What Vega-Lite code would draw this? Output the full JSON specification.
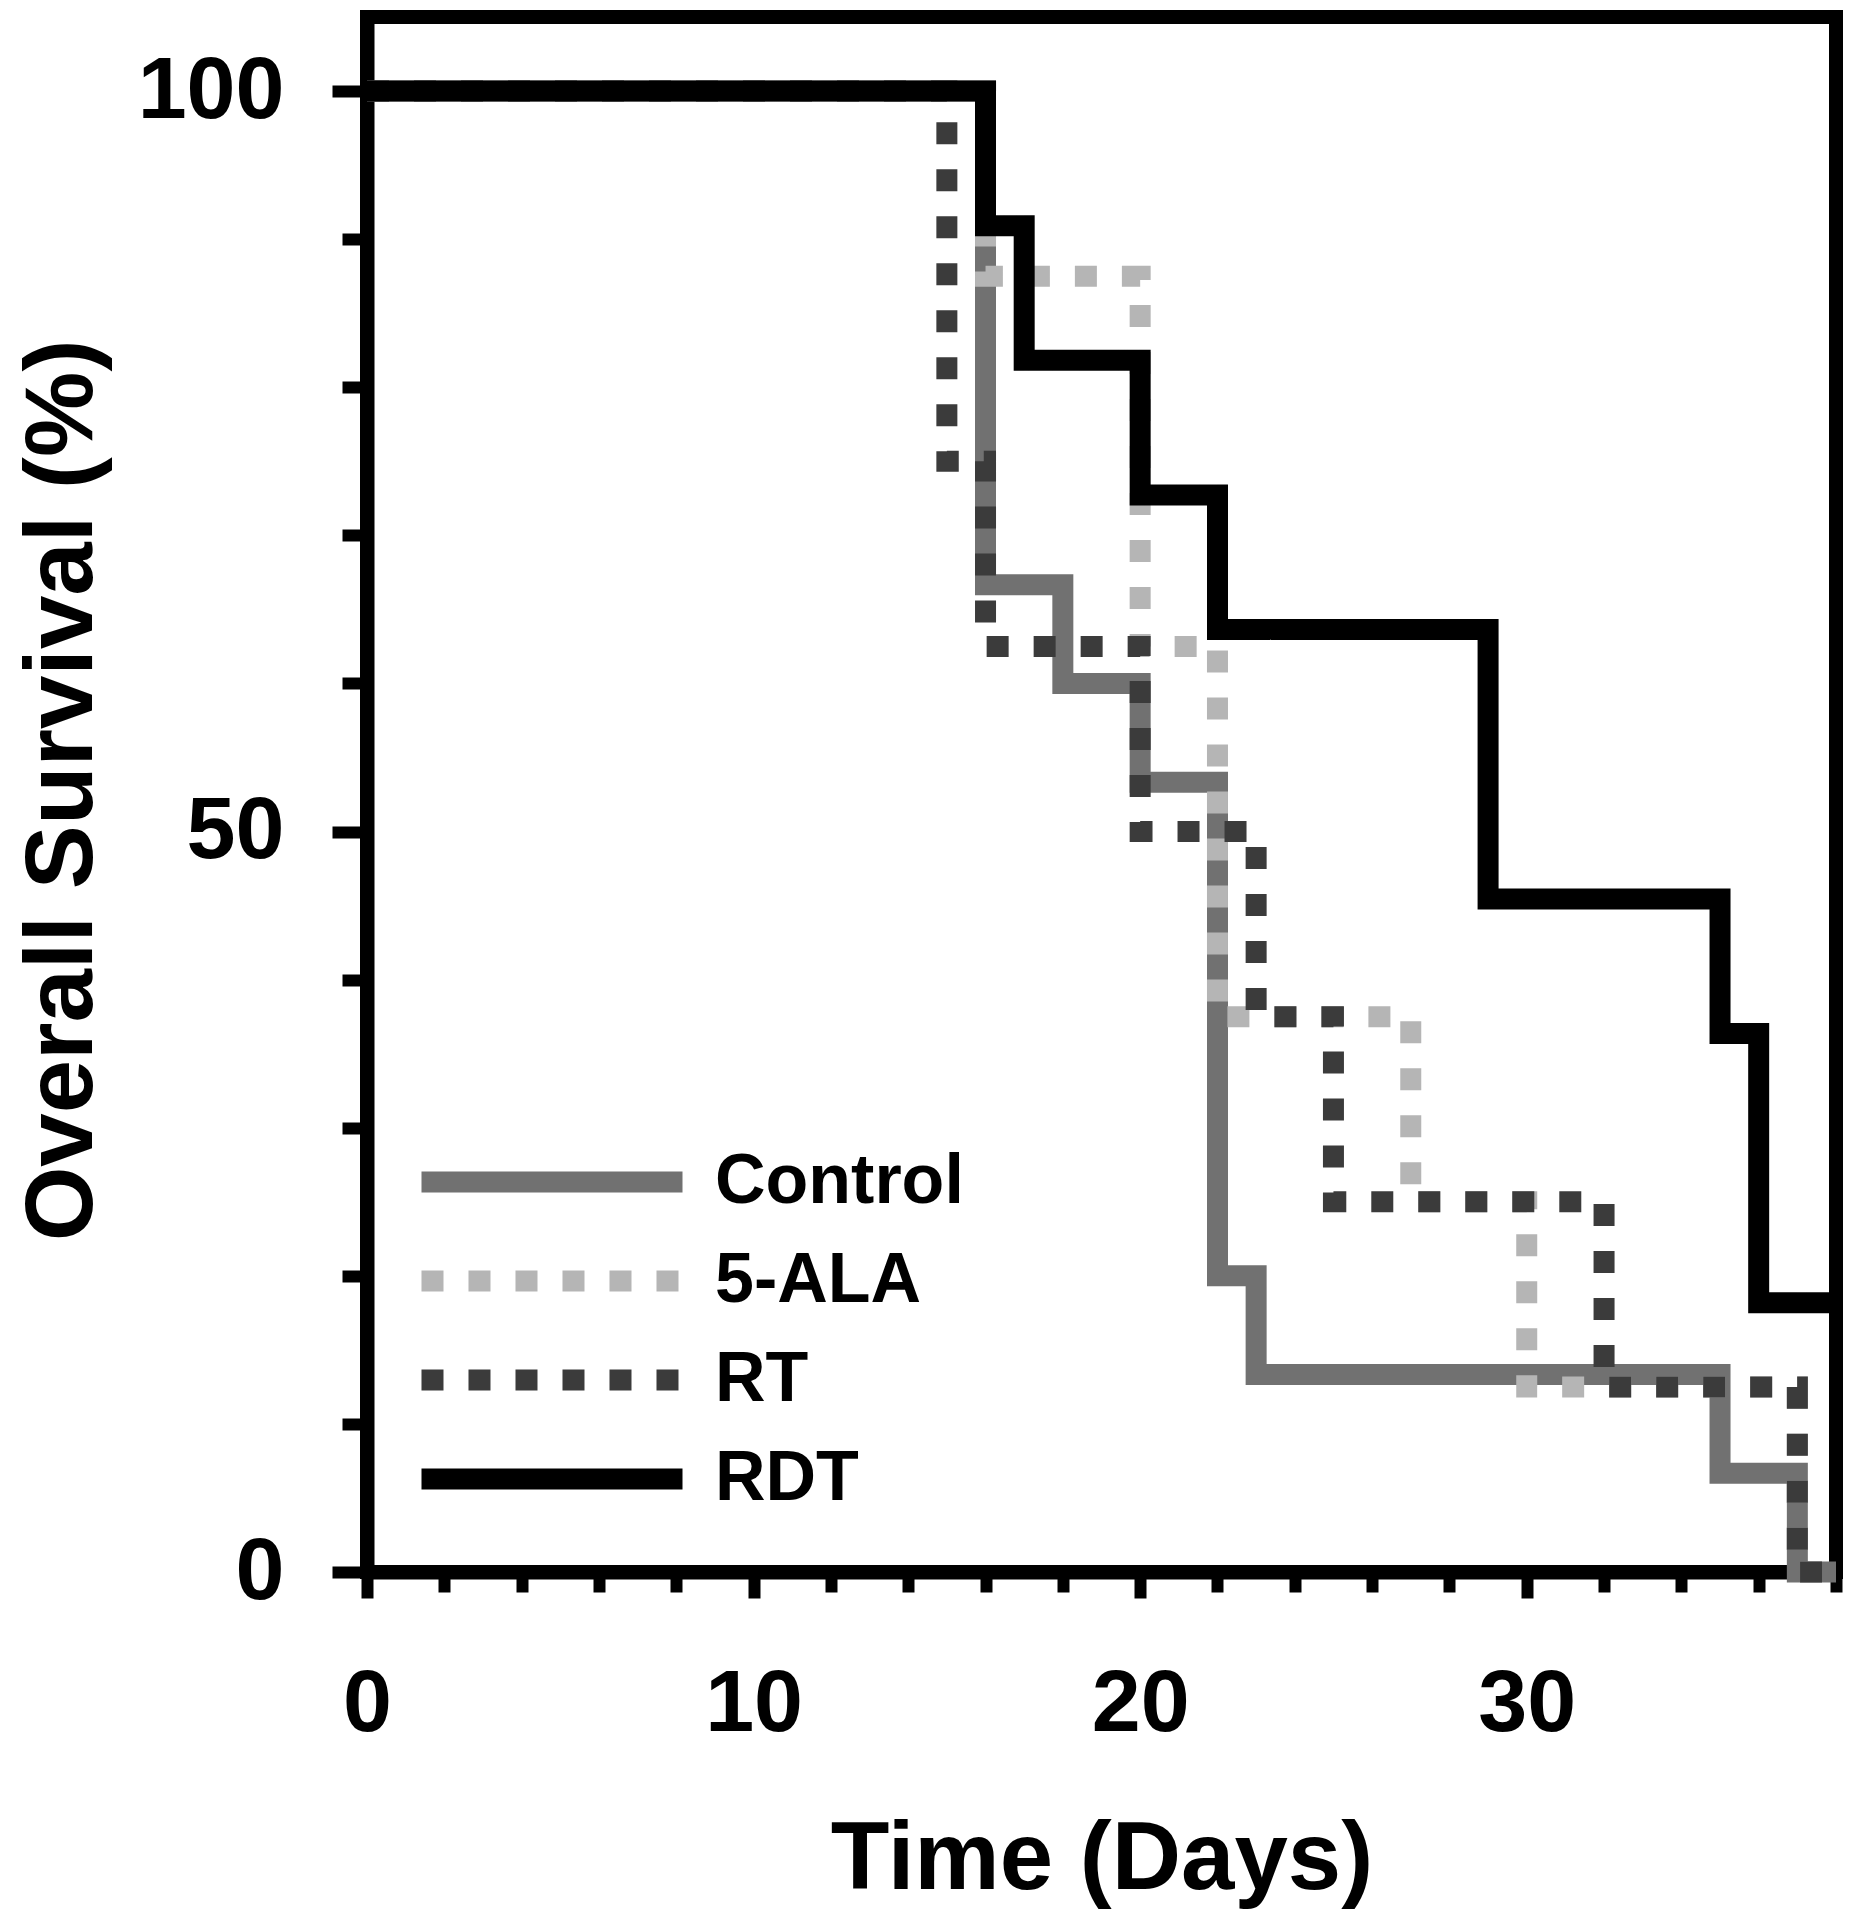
{
  "$schema": "https://vega.github.io/schema/vega-lite/v6.json",
  "autosize": {"type": "none"},
  "padding": {"left": 367, "top": 17, "right": 19, "bottom": 348},
  "width": 1469,
  "height": 1555,
  "background": "white",
  "config": {
    "view": {"stroke": "black", "strokeWidth": 14},
    "font": "Liberation Sans"
  },
  "data": {
    "values": [
      {"group": "Control", "day": 0, "survival": 100},
      {"group": "Control", "day": 16, "survival": 66.67},
      {"group": "Control", "day": 18, "survival": 60},
      {"group": "Control", "day": 20, "survival": 53.33},
      {"group": "Control", "day": 22, "survival": 20},
      {"group": "Control", "day": 23, "survival": 13.33},
      {"group": "Control", "day": 35, "survival": 6.67},
      {"group": "Control", "day": 37, "survival": 0},
      {"group": "Control", "day": 38, "survival": 0},
      {"group": "5-ALA", "day": 0, "survival": 100},
      {"group": "5-ALA", "day": 16, "survival": 87.5},
      {"group": "5-ALA", "day": 20, "survival": 62.5},
      {"group": "5-ALA", "day": 22, "survival": 37.5},
      {"group": "5-ALA", "day": 27, "survival": 25},
      {"group": "5-ALA", "day": 30, "survival": 12.5},
      {"group": "5-ALA", "day": 37, "survival": 0},
      {"group": "5-ALA", "day": 38, "survival": 0},
      {"group": "RT", "day": 0, "survival": 100},
      {"group": "RT", "day": 15, "survival": 75},
      {"group": "RT", "day": 16, "survival": 62.5},
      {"group": "RT", "day": 20, "survival": 50},
      {"group": "RT", "day": 23, "survival": 37.5},
      {"group": "RT", "day": 25, "survival": 25},
      {"group": "RT", "day": 32, "survival": 12.5},
      {"group": "RT", "day": 37, "survival": 0},
      {"group": "RT", "day": 38, "survival": 0},
      {"group": "RDT", "day": 0, "survival": 100},
      {"group": "RDT", "day": 16, "survival": 90.91},
      {"group": "RDT", "day": 17, "survival": 81.82},
      {"group": "RDT", "day": 20, "survival": 72.73},
      {"group": "RDT", "day": 22, "survival": 63.64},
      {"group": "RDT", "day": 29, "survival": 45.45},
      {"group": "RDT", "day": 35, "survival": 36.36},
      {"group": "RDT", "day": 36, "survival": 18.18},
      {"group": "RDT", "day": 38, "survival": 18.18}
    ]
  },
  "mark": {"type": "line", "interpolate": "step-after", "strokeWidth": 21, "strokeCap": "butt", "strokeJoin": "miter"},
  "encoding": {
    "x": {
      "field": "day",
      "type": "quantitative",
      "scale": {"domain": [0, 38], "nice": false, "zero": false},
      "axis": {
        "values": [0, 2, 4, 6, 8, 10, 12, 14, 16, 18, 20, 22, 24, 26, 28, 30, 32, 34, 36, 38],
        "labelExpr": "datum.value % 10 === 0 ? datum.label : ''",
        "tickSize": {"condition": {"test": "datum.value % 10 === 0", "value": 26}, "value": 20},
        "tickWidth": 12,
        "tickColor": "black",
        "domainColor": "black",
        "domainWidth": 14,
        "grid": false,
        "labelFont": "Liberation Sans",
        "labelFontSize": 88,
        "labelFontWeight": "bold",
        "labelColor": "black",
        "labelPadding": 62,
        "labelFlush": false,
        "labelOverlap": false,
        "title": "Time (Days)",
        "titleFont": "Liberation Sans",
        "titleFontSize": 96,
        "titleFontWeight": "bold",
        "titleColor": "black",
        "titlePadding": 64
      }
    },
    "y": {
      "field": "survival",
      "type": "quantitative",
      "scale": {"domain": [0, 105], "nice": false},
      "axis": {
        "values": [0, 10, 20, 30, 40, 50, 60, 70, 80, 90, 100],
        "labelExpr": "datum.value % 50 === 0 ? datum.label : ''",
        "tickSize": {"condition": {"test": "datum.value % 50 === 0", "value": 35}, "value": 25},
        "tickWidth": 12,
        "tickColor": "black",
        "domainColor": "black",
        "domainWidth": 14,
        "grid": false,
        "labelFont": "Liberation Sans",
        "labelFontSize": 88,
        "labelFontWeight": "bold",
        "labelColor": "black",
        "labelPadding": 48,
        "labelFlush": false,
        "labelOverlap": false,
        "title": "Overall Survival (%)",
        "titleFont": "Liberation Sans",
        "titleFontSize": 96,
        "titleFontWeight": "bold",
        "titleColor": "black",
        "titleAngle": 270,
        "titleBaseline": "alphabetic",
        "titleAlign": "center",
        "titleX": -276,
        "titleY": 773
      }
    },
    "color": {
      "field": "group",
      "type": "nominal",
      "sort": ["Control", "5-ALA", "RT", "RDT"],
      "scale": {"domain": ["Control", "5-ALA", "RT", "RDT"], "range": ["#717171", "#b5b5b5", "#3b3b3b", "#000000"]},
      "legend": {
        "title": null,
        "orient": "none",
        "legendX": 148,
        "legendY": 1128,
        "padding": 0,
        "symbolType": "M-5,0H5",
        "symbolSize": 2725,
        "symbolStrokeWidth": 21,
        "labelFont": "Liberation Sans",
        "labelFontSize": 70,
        "labelFontWeight": "bold",
        "labelColor": "black",
        "labelLimit": 0,
        "labelOffset": 126,
        "rowPadding": 15
      }
    },
    "strokeDash": {
      "field": "group",
      "type": "nominal",
      "sort": ["Control", "5-ALA", "RT", "RDT"],
      "scale": {"domain": ["Control", "5-ALA", "RT", "RDT"], "range": [[1, 0], [22, 25], [22, 25], [1, 0]]},
      "legend": {
        "title": null,
        "orient": "none",
        "legendX": 148,
        "legendY": 1128,
        "padding": 0,
        "symbolType": "M-5,0H5",
        "symbolSize": 2725,
        "symbolStrokeWidth": 21,
        "labelFont": "Liberation Sans",
        "labelFontSize": 70,
        "labelFontWeight": "bold",
        "labelColor": "black",
        "labelLimit": 0,
        "labelOffset": 126,
        "rowPadding": 15
      }
    }
  }
}
